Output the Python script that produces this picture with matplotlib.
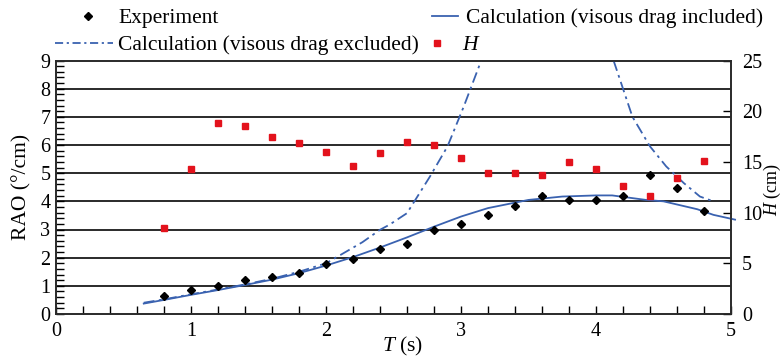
import numpy as np
import matplotlib.pyplot as plt
from matplotlib.lines import Line2D
from matplotlib.ticker import MultipleLocator

plt.rcParams['font.family'] = ['Liberation Serif', 'DejaVu Serif']
plt.rcParams['mathtext.fontset'] = 'custom'
plt.rcParams['mathtext.it'] = 'Liberation Serif:italic'
plt.rcParams['mathtext.rm'] = 'Liberation Serif'

# experiment (RAO, deg/cm)
t_exp = [0.8, 1.0, 1.2, 1.4, 1.6, 1.8, 2.0, 2.2, 2.4, 2.6, 2.8, 3.0,
         3.2, 3.4, 3.6, 3.8, 4.0, 4.2, 4.4, 4.6, 4.8]
rao_exp = [0.65, 0.84, 0.98, 1.19, 1.30, 1.47, 1.78, 1.94, 2.30, 2.48, 2.98, 3.19,
           3.51, 3.83, 4.20, 4.04, 4.04, 4.18, 4.94, 4.46, 3.66]

# wave height H (cm)
h_wave = [8.5, 14.3, 18.8, 18.5, 17.5, 16.9, 16.0, 14.6, 15.9, 17.0, 16.7, 15.4,
          13.9, 13.9, 13.7, 15.0, 14.3, 12.6, 11.6, 13.4, 15.1]

# calculation, viscous drag included
t_inc = [0.65, 0.8, 1.0, 1.2, 1.4, 1.6, 1.8, 2.0, 2.2, 2.4, 2.6, 2.8, 3.0,
         3.2, 3.5, 3.75, 4.0, 4.12, 4.37, 4.5, 4.75, 4.87, 5.03]
rao_inc = [0.37, 0.50, 0.68, 0.85, 1.03, 1.22, 1.45, 1.72, 2.02, 2.36, 2.72, 3.10, 3.46,
           3.76, 4.05, 4.17, 4.21, 4.21, 4.05, 4.00, 3.72, 3.52, 3.35]

# calculation, viscous drag excluded (two branches)
t_exc1 = [0.65, 0.8, 1.0, 1.2, 1.4, 1.6, 1.8, 2.0, 2.13, 2.27, 2.4, 2.47, 2.6,
          2.77, 2.9, 3.02, 3.15]
rao_exc1 = [0.40, 0.52, 0.70, 0.87, 1.05, 1.25, 1.50, 1.80, 2.16, 2.55, 2.99, 3.17, 3.58,
            4.88, 5.95, 7.36, 9.0]
t_exc2 = [4.13, 4.27, 4.4, 4.52, 4.65, 4.77, 4.87]
rao_exc2 = [9.0, 7.0, 5.95, 5.24, 4.65, 4.17, 4.0]

blue = '#3a62b0'
red = '#e3121c'
dashdot = (0, (6, 2.5, 1.5, 2.5))
W, H = 782.0, 358.0

fig = plt.figure(figsize=(7.82, 3.58), dpi=100)
ax = fig.add_axes([56 / W, 1 - 314 / H, 675 / W, 253.5 / H])

for y in range(1, 9):
    ax.axhline(y, color='#2a2a2a', lw=1.4, zorder=1)

ax.plot(t_inc, rao_inc, color=blue, lw=1.3, zorder=3, clip_on=False)
ax.plot(t_exc1, rao_exc1, color=blue, lw=1.3, ls=dashdot, zorder=3)
ax.plot(t_exc2, rao_exc2, color=blue, lw=1.3, ls=dashdot, zorder=3)
ax.plot(t_exp, rao_exp, 'D', color='black', ms=4.3, zorder=4)

ax.set_xlim(0, 5)
ax.set_ylim(0, 9)
ax.xaxis.set_major_locator(MultipleLocator(1))
ax.xaxis.set_minor_locator(MultipleLocator(0.2))
ax.yaxis.set_major_locator(MultipleLocator(1))
ax.yaxis.set_minor_locator(MultipleLocator(0.2))
ax.tick_params(which='both', direction='in', length=6, width=1, labelsize=14.5,
               right=False, top=False)
ax.tick_params(axis='x', pad=6)
ax.tick_params(axis='y', pad=4)
ax.set_xlabel('$T$ (s)', fontsize=15.5)
ax.xaxis.set_label_coords(0.514, -0.127)
ax.xaxis.label.set_va('center')
ax.set_ylabel('RAO (°/cm)', fontsize=15.5)
ax.yaxis.set_label_coords(-0.05, 0.5)
ax.yaxis.label.set_va('center')

ax2 = ax.twinx()
ax2.plot(t_exp, h_wave, 's', color=red, ms=4.3, zorder=4)
ax2.set_ylim(0, 25)
ax2.yaxis.set_major_locator(MultipleLocator(5))
ax2.tick_params(direction='in', length=6, width=1, labelsize=14.5, pad=8)
ax2.set_ylabel('$H$ (cm)', fontsize=13, rotation=90)
ax2.yaxis.set_label_coords(1.061, 0.49)
ax2.yaxis.label.set_va('center')

for a in (ax, ax2):
    for s in a.spines.values():
        s.set_linewidth(1.2)
        s.set_color('#2a2a2a')

h_exp = Line2D([], [], ls='none', marker='D', color='black', ms=4)
h_inc = Line2D([], [], color=blue, lw=1.3)
h_exc = Line2D([], [], color=blue, lw=1.3, ls=(0, (4.5, 2, 1.2, 2)))
h_h = Line2D([], [], ls='none', marker='s', color=red, ms=4)

legend_items = [
    (h_exp, 'Experiment', 75, 18, 1.2, 0.8),
    (h_inc, 'Calculation (visous drag included)', 432, 18, 1.2, 0.37),
    (h_exc, 'Calculation (visous drag excluded)', 55, 45, 2.7, 0.23),
    (h_h, '$H$', 426, 45, 1.0, 0.67),
]
for handle, label, x0, y0, hl, pad in legend_items:
    leg = fig.legend([handle], [label], loc='center left',
                     bbox_to_anchor=(x0 / W, 1 - y0 / H), frameon=False,
                     fontsize=15.5, handlelength=hl, handletextpad=pad,
                     borderpad=0, borderaxespad=0)

fig.savefig('out.png', dpi=100)
